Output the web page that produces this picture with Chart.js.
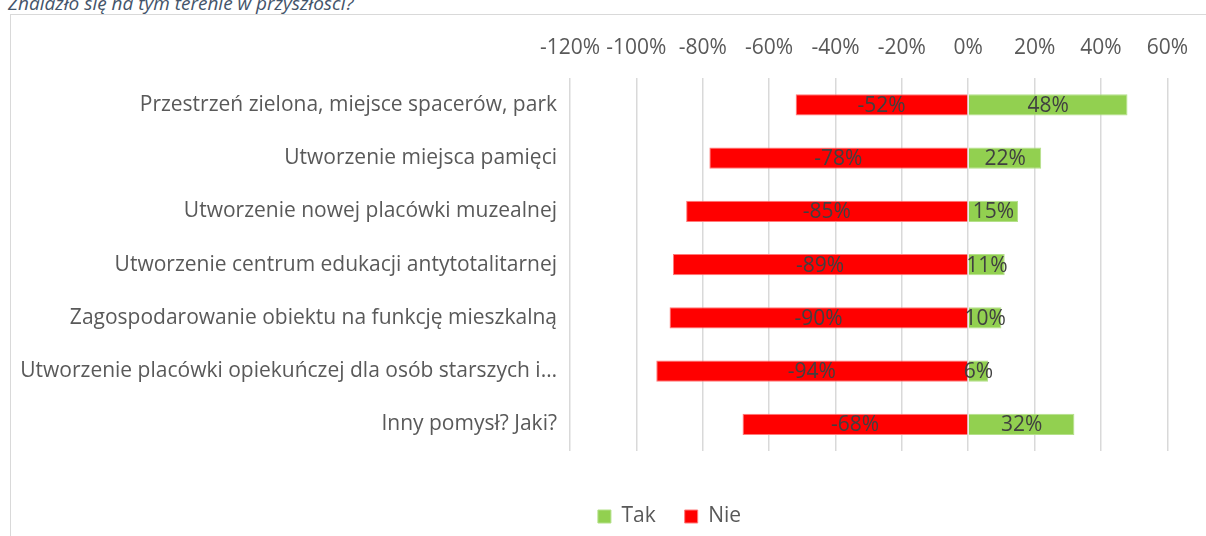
<!DOCTYPE html>
<html>
<head>
<meta charset="utf-8">
<script src="https://cdn.jsdelivr.net/npm/chart.js@4/dist/chart.umd.min.js"></script>
<style>
  html, body { margin: 0; padding: 0; background: #fff; overflow: hidden; }
  #frame { position: absolute; left: 10px; top: 14px; width: 1210px; height: 540px; border: 1px solid #d9d9d9; box-sizing: border-box; }
  #caption { position: absolute; left: 8px; top: -10px; font: italic 19px "Open Sans", sans-serif; color: #44546a; white-space: nowrap; }
  #wrap { position: absolute; left: 0; top: 0; width: 1206px; height: 536px; }
</style>
</head>
<body>
<div id="caption">Znalazło się na tym terenie w przyszłości?</div>
<div id="frame"></div>
<div id="wrap"><canvas id="chart"></canvas></div>
<script>
// answers per idea
var categories = [
  "Przestrzeń zielona, miejsce spacerów, park",
  "Utworzenie miejsca pamięci",
  "Utworzenie nowej placówki muzealnej",
  "Utworzenie centrum edukacji antytotalitarnej",
  "Zagospodarowanie obiektu na funkcję mieszkalną",
  "Utworzenie placówki opiekuńczej dla osób starszych i…",
  "Inny pomysł? Jaki?"
];
var tak = [48, 22, 15, 11, 10, 6, 32];
var nie = [-52, -78, -85, -89, -90, -94, -68];

var xMin = -120, xMax = 60, xStep = 20;

var fontFamily = "'Open Sans', sans-serif";
var fontSize = 21;

// value labels in the middle of each bar
var barLabels = {
  id: 'barLabels',
  afterDatasetsDraw: function(chart) {
    var ctx = chart.ctx;
    ctx.save();
    ctx.font = fontSize + "px " + fontFamily;
    ctx.fillStyle = "#404040";
    ctx.textAlign = "center";
    ctx.textBaseline = "middle";
    chart.data.datasets.forEach(function(ds, i) {
      var meta = chart.getDatasetMeta(i);
      meta.data.forEach(function(bar, j) {
        var x = (bar.x + bar.base) / 2;
        ctx.fillText(ds.data[j] + "%", x, bar.y + 1);
      });
    });
    ctx.restore();
  }
};

// move the legend a bit right and down, under the bars
var legendShift = {
  id: 'legendShift',
  afterLayout: function(chart) {
    var lg = chart.legend;
    lg.left += 80; lg.right += 80;
    lg.top += 26; lg.bottom += 26;
  }
};

var ctx = document.getElementById("chart");
var chart = new Chart(ctx, {
  type: 'bar',
  data: {
    labels: categories,
    datasets: [{
      label: "Tak",
      data: tak,
      backgroundColor: "#92d050",
      borderColor: "#b4e08a",
      borderWidth: 1
    }, {
      label: "Nie",
      data: nie,
      backgroundColor: "#ff0000",
      borderColor: "#ff7a7a",
      borderWidth: 1
    }]
  },
  options: {
    indexAxis: 'y',
    responsive: true,
    maintainAspectRatio: false,
    animation: false,
    datasets: {
      bar: { categoryPercentage: 1, barPercentage: 0.4 }
    },
    layout: {
      padding: { left: 10, right: 37, top: 17, bottom: 25 }
    },
    scales: {
      x: {
        position: 'top',
        stacked: true,
        min: xMin,
        max: xMax,
        ticks: {
          stepSize: xStep,
          padding: 18,
          color: "#595959",
          font: { family: fontFamily, size: fontSize },
          callback: function(v) { return v + "%"; }
        },
        grid: { color: "#d9d9d9", lineWidth: 1.5, drawTicks: false },
        border: { display: false }
      },
      y: {
        stacked: true,
        ticks: {
          padding: 13,
          color: "#595959",
          font: { family: fontFamily, size: fontSize }
        },
        grid: { display: false, drawTicks: false },
        border: { display: false },
        afterFit: function(scale) { scale.width = 560; }
      }
    },
    plugins: {
      legend: {
        position: 'bottom',
        labels: {
          boxWidth: 13,
          boxHeight: 13,
          padding: 29,
          color: "#595959",
          font: { family: fontFamily, size: fontSize }
        }
      },
      tooltip: { enabled: false }
    }
  },
  plugins: [barLabels, legendShift]
});
</script>
</body>
</html>
